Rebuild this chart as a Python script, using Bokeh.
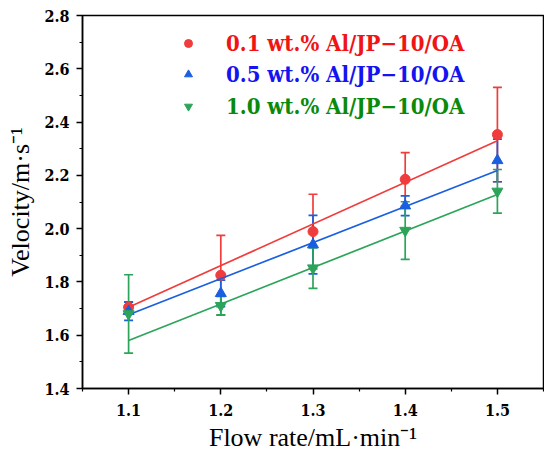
from bokeh.plotting import figure
from bokeh.models import (ColumnDataSource, Whisker, TeeHead, Legend, LegendItem,
                          FixedTicker, Range1d, NumeralTickFormatter)
from bokeh.embed import file_html
from bokeh.resources import INLINE

# ---- data ----
flow = [1.1, 1.2, 1.3, 1.4, 1.5]
x_ticks = [1.1, 1.2, 1.3, 1.4, 1.5]
x_minor = [1.05, 1.15, 1.25, 1.35, 1.45, 1.55]
y_ticks = [1.4, 1.6, 1.8, 2.0, 2.2, 2.4, 2.6, 2.8]
y_minor = [1.5, 1.7, 1.9, 2.1, 2.3, 2.5, 2.7]
labels = ["0.1 wt.% Al/JP\u221210/OA", "0.5 wt.% Al/JP\u221210/OA", "1.0 wt.% Al/JP\u221210/OA"]
vel_01 = [1.705, 1.825, 1.989, 2.185, 2.353]
err_01 = [0.02, 0.15, 0.14, 0.10, 0.177]
vel_05 = [1.69, 1.757, 1.94, 2.086, 2.256]
err_05 = [0.034, 0.05, 0.11, 0.037, 0.08]
vel_10 = [1.68, 1.711, 1.852, 1.993, 2.14]
err_10 = [0.147, 0.035, 0.076, 0.108, 0.082]
fit_x = [1.1, 1.5]
fit_01 = [1.705, 2.33]
fit_05 = [1.677, 2.218]
fit_10 = [1.58, 2.128]

mark_colors = ["#f03c3c", "#1a5fe0", "#2ca45a"]
text_colors = ["#f01414", "#1414f0", "#0a8a0a"]
markers = ["circle", "triangle", "inverted_triangle"]

SERIF = "Liberation Serif"
BOLD_SERIF = "DejaVu Serif Condensed"

p = figure(output_backend="svg", toolbar_location=None,
           x_range=Range1d(1.05, 1.55), y_range=Range1d(1.4, 2.8),
           min_border_left=82, min_border_right=1, min_border_top=15, min_border_bottom=60)
p.frame_width = 461
p.frame_height = 373
p.grid.visible = False
p.outline_line_color = "black"
p.outline_line_width = 1.5
p.outline_line_alpha = 1.0
p.background_fill_color = "white"
p.border_fill_color = "white"

p.xaxis.ticker = FixedTicker(ticks=x_ticks, minor_ticks=x_minor)
p.yaxis.ticker = FixedTicker(ticks=y_ticks, minor_ticks=y_minor)
p.xaxis.formatter = NumeralTickFormatter(format="0.0")
p.yaxis.formatter = NumeralTickFormatter(format="0.0")
p.xaxis.axis_label = "Flow rate/mL\u00b7min\u207b\u00b9"
p.yaxis.axis_label = "Velocity/m\u00b7s\u207b\u00b9"
for ax in (p.xaxis[0], p.yaxis[0]):
    ax.axis_line_width = 1.5
    ax.axis_line_color = "black"
    ax.major_tick_line_width = 1.5
    ax.minor_tick_line_width = 1.2
    ax.major_tick_line_color = "black"
    ax.minor_tick_line_color = "black"
    ax.major_tick_out = 6
    ax.major_tick_in = 0
    ax.minor_tick_out = 3
    ax.minor_tick_in = 0
    ax.major_label_text_font = BOLD_SERIF
    ax.major_label_text_font_style = "bold"
    ax.major_label_text_font_size = "16px"
    ax.major_label_text_color = "black"
    ax.axis_label_text_font = SERIF
    ax.axis_label_text_font_style = "normal"
    ax.axis_label_text_font_size = "26px"
    ax.axis_label_text_color = "black"
p.xaxis.major_label_standoff = 9
p.xaxis.axis_label_standoff = 4
p.yaxis.major_label_standoff = 7
p.yaxis.axis_label_standoff = 6

series = [(vel_01, err_01, fit_01), (vel_05, err_05, fit_05), (vel_10, err_10, fit_10)]
legend_bottoms = [331, 300, 268]
for i, (v, e, f) in enumerate(series):
    c = mark_colors[i]
    src = ColumnDataSource(dict(x=flow, y=v,
                                upper=[a + b for a, b in zip(v, e)],
                                lower=[a - b for a, b in zip(v, e)]))
    w = Whisker(base="x", upper="upper", lower="lower", source=src,
                line_color=c, line_width=1.7,
                upper_head=TeeHead(size=9, line_color=c, line_width=1.7),
                lower_head=TeeHead(size=9, line_color=c, line_width=1.7))
    p.add_layout(w)
    r = p.scatter("x", "y", source=src, marker=markers[i], size=11 if i else 10,
                  fill_color=c, line_color=c)
    p.line(fit_x, f, line_color=c, line_width=1.7)
    leg = Legend(items=[LegendItem(label=labels[i], renderers=[r])],
                 location=(96, legend_bottoms[i]),
                 label_text_font=BOLD_SERIF, label_text_font_style="bold",
                 label_text_font_size="22px", label_text_color=text_colors[i],
                 label_standoff=28, glyph_width=20, glyph_height=28, label_height=28,
                 padding=0, margin=0, spacing=0, border_line_alpha=0,
                 background_fill_alpha=0)
    p.add_layout(leg)

open("out.html", "w").write(file_html(p, INLINE))
